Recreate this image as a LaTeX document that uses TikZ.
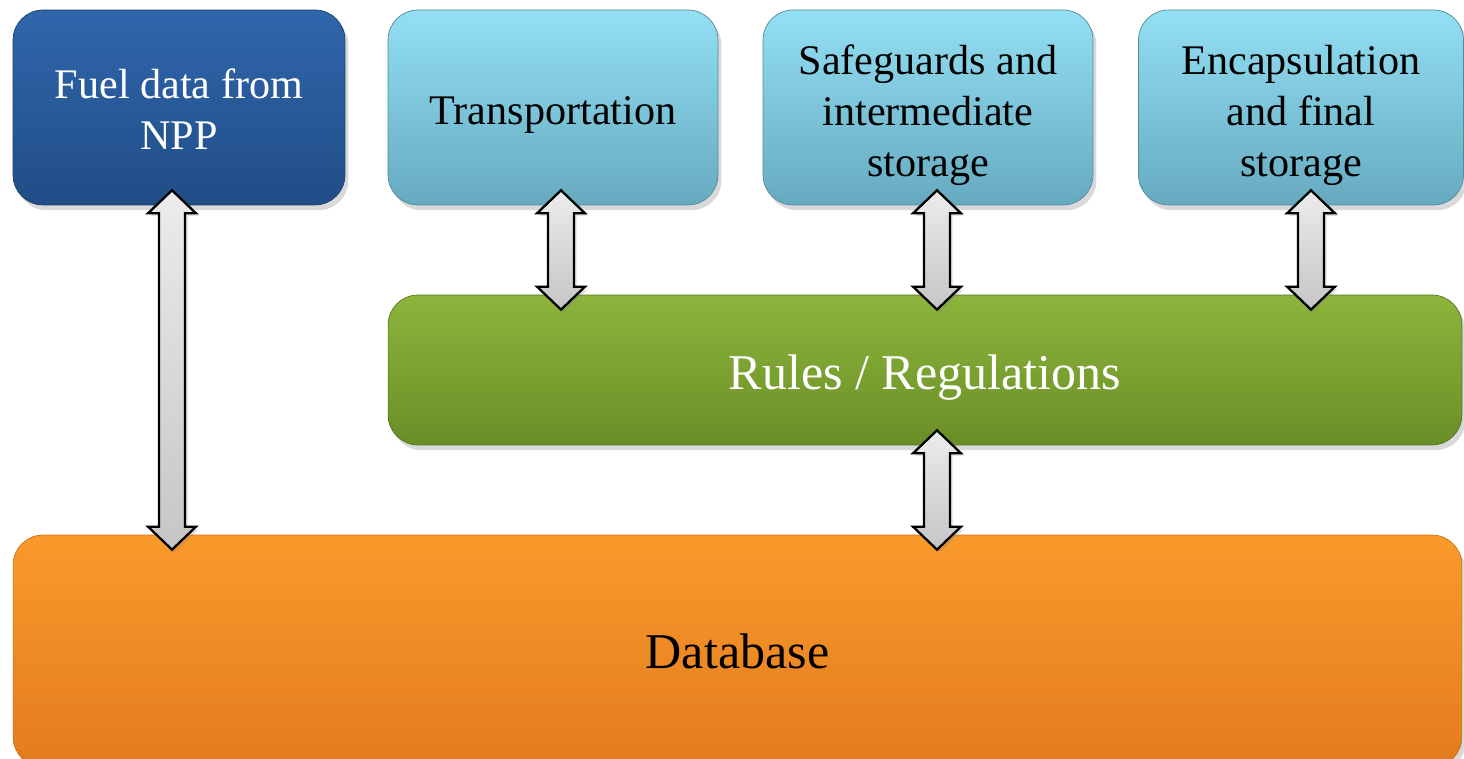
\documentclass[tikz,border=0pt]{standalone}
\usepackage{fontspec}
\setmainfont{Liberation Serif}
\usetikzlibrary{calc,shadows}

\definecolor{fueltop}{HTML}{3066AC}
\definecolor{fuelbot}{HTML}{204D86}
\definecolor{steptop}{HTML}{93DFF3}
\definecolor{stepbot}{HTML}{66AAC0}
\definecolor{rulestop}{HTML}{8DB53C}
\definecolor{rulesbot}{HTML}{6A8E27}
\definecolor{dbtop}{HTML}{F99A2B}
\definecolor{dbbot}{HTML}{E37B1E}

% vertical two-headed block arrow from #1 (top) to #2 (bottom)
\newcommand{\twoway}[2]{%
  \path[twowayarrow] let \p1=#1, \p2=#2 in
    (\x1,\y1) -- (\x1+0.48cm,\y1-0.46cm) -- (\x1+0.26cm,\y1-0.46cm)
    -- (\x1+0.26cm,\y2+0.46cm) -- (\x1+0.48cm,\y2+0.46cm) -- (\x1,\y2)
    -- (\x1-0.48cm,\y2+0.46cm) -- (\x1-0.26cm,\y2+0.46cm)
    -- (\x1-0.26cm,\y1-0.46cm) -- (\x1-0.48cm,\y1-0.46cm) -- cycle;}

\begin{document}
\begin{tikzpicture}[x=0.02cm, y=0.02cm,
    block/.style={rounded corners=0.6cm, inner sep=0pt,
      drop shadow={shadow xshift=2pt, shadow yshift=-3pt, opacity=0.3}},
    boxtext/.style={align=center, inner sep=0pt, yshift=-0.15cm},
    smalltext/.style={boxtext, font=\fontsize{24}{29}\selectfont},
    bigtext/.style={boxtext, font=\fontsize{28.5}{34}\selectfont},
    fuelbox/.style={block, top color=fueltop, bottom color=fuelbot, draw=fuelbot!80!black},
    stepbox/.style={block, top color=steptop, bottom color=stepbot, draw=stepbot!80!black,
      minimum width=6.6cm, minimum height=3.9cm},
    rulesbox/.style={block, top color=rulestop, bottom color=rulesbot, draw=rulesbot!80!black},
    dbbox/.style={block, top color=dbtop, bottom color=dbbot, draw=dbbot!90!black},
    twowayarrow/.style={draw=black, line width=1.3pt, line join=miter,
      top color=gray!15, bottom color=gray!45,
      drop shadow={shadow xshift=1.5pt, shadow yshift=-1.5pt, opacity=0.25}}]
    \useasboundingbox (0,0) rectangle (1464,759);
    \begin{scope}
    \clip (0,0) rectangle (1464,759);

    % Top row
    \node[fuelbox, minimum width=6.64cm, minimum height=3.9cm,
      label={[smalltext, text=white, yshift=0.11cm]center:{Fuel data from\\NPP}}]
      (fuel) at (179,651.5) {};
    \node[stepbox, label={[smalltext]center:Transportation}] (trans) at (553,651.5) {};
    \node[stepbox, label={[smalltext]center:{Safeguards and\\intermediate\\storage}}]
      (safe) at (928,651.5) {};
    \node[stepbox, minimum width=6.5cm,
      label={[smalltext]center:{Encapsulation\\and final\\storage}}] (encap) at (1301,651.5) {};

    % Middle
    \node[rulesbox, minimum width=21.48cm, minimum height=3cm,
      label={[bigtext, text=white]center:Rules / Regulations}] (rules) at (925,389) {};

    % Bottom
    \node[dbbox, minimum width=28.98cm, minimum height=4.64cm,
      label={[bigtext, yshift=0.15cm]center:Database}] (db) at (737.5,108) {};
    \end{scope}

    % Arrows
    \twoway{($(fuel.south)+(-7,15)$)}{($(fuel.south |- db.north)+(-7,-15)$)}
    \twoway{($(trans.south)+(8,15)$)}{($(trans.south |- rules.north)+(8,-15)$)}
    \twoway{($(safe.south)+(9,15)$)}{($(safe.south |- rules.north)+(9,-15)$)}
    \twoway{($(encap.south)+(10,15)$)}{($(encap.south |- rules.north)+(10,-15)$)}
    \twoway{($(safe.south |- rules.south)+(9,15)$)}{($(safe.south |- db.north)+(9,-15)$)}
\end{tikzpicture}
\end{document}
